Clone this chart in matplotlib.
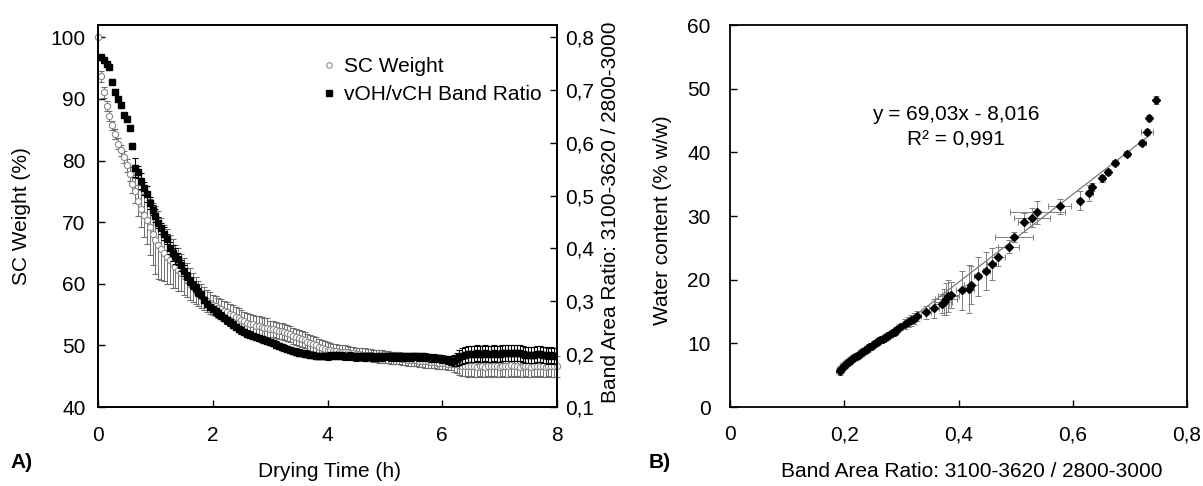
import numpy as np
import matplotlib
matplotlib.use("Agg")
import matplotlib.pyplot as plt
from matplotlib.ticker import FuncFormatter, MultipleLocator
from matplotlib.lines import Line2D

plt.rcParams['font.family'] = ['Liberation Sans', 'DejaVu Sans']

# ---- Panel A: drying kinetics (sampled every 0.05 h) ----
# SC weight (%), from t = 0 h
sc_weight = [
    100.0, 93.7, 91.1, 88.9, 87.3, 85.7, 84.3, 82.7, 81.7, 80.6,
    79.2, 77.8, 76.2, 75.1, 73.5, 72.2, 71.1, 70.4, 69.2, 68.1,
    67.1, 66.3, 65.6, 65.0, 64.4, 63.9, 63.3, 62.8, 62.3, 61.8,
    61.2, 60.6, 60.0, 59.4, 58.9, 58.4, 58.0, 57.6, 57.2, 56.9,
    56.6, 56.4, 56.1, 55.9, 55.6, 55.4, 55.1, 54.9, 54.6, 54.4,
    54.1, 53.9, 53.7, 53.5, 53.4, 53.2, 53.1, 53.0, 52.9, 52.8,
    52.7, 52.6, 52.5, 52.4, 52.3, 52.1, 52.0, 51.8, 51.6, 51.4,
    51.2, 51.0, 50.8, 50.6, 50.4, 50.2, 50.0, 49.8, 49.6, 49.4,
    49.3, 49.2, 49.1, 49.1, 49.0, 49.0, 48.9, 48.9, 48.8, 48.7,
    48.6, 48.6, 48.5, 48.5, 48.4, 48.4, 48.3, 48.3, 48.2, 48.2,
    48.1, 48.1, 48.0, 48.0, 47.9, 47.9, 47.8, 47.8, 47.7, 47.7,
    47.6, 47.6, 47.5, 47.5, 47.4, 47.4, 47.3, 47.3, 47.2, 47.2,
    47.1, 47.1, 47.0, 47.0, 46.9, 46.9, 46.8, 46.7, 46.7, 46.6,
    46.7, 46.6, 46.5, 46.7, 46.6, 46.5, 46.7, 46.6, 46.7, 46.6,
    46.5, 46.7, 46.6, 46.6, 46.8, 46.6, 46.7, 46.5, 46.6, 46.7,
    46.6, 46.5, 46.7, 46.6, 46.7, 46.6, 46.5, 46.7, 46.6, 46.6,
    46.6,
]
sc_err = (
    [0.0, 0.9, 0.9, 0.8, 0.8, 0.8, 0.8, 0.9, 0.9, 1.0]
    + [1.0, 1.2, 1.5, 2.0, 2.5, 3.0, 3.5, 4.0, 4.5, 5.0]
    + [5.5, 5.5, 5.0, 4.5, 4.5, 4.0, 4.0, 3.5, 3.5, 3.0]
    + [3.0, 2.8, 2.6, 2.4, 2.2, 2.0, 2.0, 1.8, 1.8, 1.8]
    + [1.6] * 20
    + [1.3] * 20
    + [1.2, 1.2, 1.2, 1.1, 1.1, 1.1, 1.1, 1.0, 1.0, 1.0]
    + [1.0] * 30
    + [1.0, 1.0, 1.0, 1.0, 1.2, 1.4, 1.6, 1.7, 1.7, 1.7]
    + [1.7] * 31
)

# band area ratio 3100-3620 / 2800-3000, from t = 0.05 h
band_ratio = [
    0.762, 0.757, 0.750, 0.743, 0.716, 0.697, 0.682, 0.671, 0.653,
    0.646, 0.628, 0.594, 0.553, 0.545, 0.528, 0.514, 0.503, 0.486, 0.473,
    0.462, 0.449, 0.438, 0.428, 0.418, 0.401, 0.392, 0.386, 0.380, 0.368,
    0.358, 0.348, 0.338, 0.331, 0.325, 0.318, 0.313, 0.302, 0.295, 0.289,
    0.286, 0.281, 0.277, 0.273, 0.269, 0.264, 0.260, 0.256, 0.251, 0.248,
    0.245, 0.242, 0.239, 0.237, 0.235, 0.233, 0.231, 0.229, 0.227, 0.225,
    0.223, 0.221, 0.218, 0.216, 0.214, 0.212, 0.210, 0.208, 0.206, 0.205,
    0.203, 0.202, 0.201, 0.200, 0.199, 0.198, 0.197, 0.197, 0.196, 0.197,
    0.196, 0.197, 0.198, 0.197, 0.198, 0.197, 0.196, 0.196, 0.197, 0.196,
    0.195, 0.196, 0.196, 0.195, 0.196, 0.196, 0.195, 0.195, 0.196, 0.195,
    0.196, 0.196, 0.195, 0.196, 0.195, 0.195, 0.196, 0.195, 0.196, 0.195,
    0.196, 0.196, 0.195, 0.196, 0.195, 0.194, 0.193, 0.193, 0.192, 0.192,
    0.191, 0.190, 0.189, 0.188, 0.188, 0.190, 0.194, 0.197, 0.199, 0.200,
    0.201, 0.201, 0.202, 0.201, 0.201, 0.202, 0.201, 0.201, 0.202, 0.201,
    0.201, 0.202, 0.202, 0.203, 0.203, 0.203, 0.203, 0.202, 0.200, 0.199,
    0.198, 0.198, 0.199, 0.200, 0.201, 0.199, 0.198, 0.197, 0.198, 0.197,
    0.196,
]
band_err = (
    [0.004] * 9
    + [0.004, 0.004, 0.006, 0.018, 0.012, 0.015, 0.012, 0.015, 0.012, 0.010]
    + [0.012, 0.010, 0.010, 0.012, 0.010, 0.012, 0.015, 0.015, 0.012, 0.010]
    + [0.010, 0.008, 0.008, 0.008, 0.007, 0.007, 0.007, 0.006, 0.006, 0.006]
    + [0.006] * 40
    + [0.007] * 40
    + [0.007, 0.007, 0.008, 0.008, 0.010, 0.012, 0.014, 0.015, 0.015, 0.015]
    + [0.015] * 31
)

t_sc = 0.05 * np.arange(len(sc_weight))
t_band = 0.05 * np.arange(1, len(band_ratio) + 1)

# ---- Panel B: water content vs band area ratio ----
ratio_x = [0.192, 0.194, 0.196, 0.199, 0.201, 0.204, 0.207, 0.210, 0.213, 0.216,
           0.219, 0.222, 0.225, 0.228, 0.231, 0.234, 0.238, 0.241, 0.244, 0.248,
           0.252, 0.255, 0.259, 0.263, 0.267, 0.271, 0.275, 0.279, 0.284, 0.288,
           0.291, 0.297, 0.307, 0.312, 0.316, 0.322, 0.328, 0.343, 0.357, 0.371,
           0.374, 0.378, 0.382, 0.386, 0.406, 0.419, 0.422, 0.434, 0.449, 0.458,
           0.470, 0.488, 0.497, 0.515, 0.529, 0.538, 0.577, 0.612, 0.629, 0.633,
           0.652, 0.661, 0.674, 0.695, 0.722, 0.730, 0.734, 0.746]
water = [5.6, 5.9, 6.2, 6.5, 6.6, 6.9, 7.1, 7.3, 7.5, 7.7,
         7.9, 8.0, 8.2, 8.4, 8.6, 8.8, 9.0, 9.2, 9.4, 9.6,
         9.9, 10.1, 10.3, 10.5, 10.7, 10.9, 11.1, 11.3, 11.6, 11.8,
         12.1, 12.6, 13.0, 13.3, 13.6, 13.9, 14.3, 14.9, 15.5, 16.2,
         16.5, 17.0, 17.4, 17.6, 18.3, 18.5, 19.2, 20.5, 21.4, 22.5,
         23.6, 25.2, 26.7, 29.0, 29.7, 30.6, 31.5, 32.4, 33.6, 34.6,
         35.9, 36.9, 38.4, 39.8, 41.5, 43.2, 45.4, 48.2]
ratio_xerr = [0.006] * 32 + [0.005, 0.005, 0.005, 0.006, 0.006, 0.008, 0.008, 0.012,
              0.015, 0.020, 0.018, 0.015, 0.010, 0.008, 0.013, 0.006, 0.006, 0.008,
              0.012, 0.018, 0.033, 0.010, 0.032, 0.048, 0.020, 0.004, 0.006, 0.004,
              0.005, 0.005, 0.005, 0.005, 0.006, 0.010, 0.003, 0.003]
water_err = [0.5] * 32 + [0.8, 0.8, 0.8, 0.8, 0.8, 1.0, 1.5, 1.5,
             2.0, 2.5, 2.5, 2.0, 3.0, 3.8, 3.0, 3.0, 3.0, 2.5,
             1.5, 1.0, 0.8, 1.5, 1.5, 1.8, 1.2, 1.5, 1.2, 0.6,
             0.5, 0.5, 0.4, 0.4, 0.4, 0.4, 0.4, 0.6]
fit_slope, fit_icpt = 69.03, -8.016
fit_range = [0.19, 0.735]


def comma_fmt(v, pos):
    if abs(v) < 1e-9:
        return "0"
    return f"{v:.1f}".replace(".", ",")


W, H = 1203, 486
fig = plt.figure(figsize=(W / 100, H / 100), dpi=100)

tick_fs = 15
label_fs = 15

# Panel A
ax = fig.add_axes([98 / W, 1 - 407 / H, (557 - 98) / W, (407 - 25) / H])
ax2 = ax.twinx()

ax.errorbar(t_sc, sc_weight, yerr=sc_err, fmt='o', ms=4.5, mfc='white', mec='#8a8a8a',
            mew=0.8, ecolor='#6e6e6e', elinewidth=0.7, capsize=2, capthick=0.7,
            label='SC Weight', clip_on=False, zorder=2)
ax2.errorbar(t_band, band_ratio, yerr=band_err, fmt='s', ms=5, color='black',
             elinewidth=0.8, capsize=2, capthick=0.8, label='vOH/vCH Band Ratio')

ax.set_xlim(0, 8)
ax.set_ylim(40, 102)
ax2.set_ylim(0.1, 0.823)
ax.set_xticks([0, 2, 4, 6, 8])
ax.set_yticks(range(40, 101, 10))
ax2.set_yticks([0.1, 0.2, 0.3, 0.4, 0.5, 0.6, 0.7, 0.8])
ax2.yaxis.set_major_formatter(FuncFormatter(comma_fmt))

ax.tick_params(axis='x', direction='in', length=5, width=1, labelsize=tick_fs, pad=14)
ax.tick_params(axis='y', direction='in', length=5, width=1, labelsize=tick_fs, pad=9)
ax2.tick_params(axis='y', direction='in', length=5, width=1, labelsize=tick_fs, pad=6)
for a in (ax, ax2):
    for s in a.spines.values():
        s.set_linewidth(1.3)

handles = [
    Line2D([], [], marker='o', ls='none', ms=4, mfc='white', mec='#8a8a8a', mew=0.8),
    Line2D([], [], marker='s', ls='none', ms=4, color='black'),
]
ax2.legend(handles, ['SC Weight', 'vOH/vCH Band Ratio'], loc='upper left',
           bbox_to_anchor=(323 / W, 1 - 57 / H), bbox_transform=fig.transFigure,
           frameon=False, fontsize=tick_fs, handlelength=0.6, handletextpad=0.4,
           borderpad=0, borderaxespad=0, labelspacing=0.45)

fig.text(22 / W, 1 - 216 / H, 'SC Weight (%)', rotation=90, ha='center', va='center',
         fontsize=label_fs)
fig.text(611 / W, 1 - 212 / H, 'Band Area Ratio: 3100-3620 / 2800-3000', rotation=90,
         ha='center', va='center', fontsize=label_fs)
fig.text(330 / W, 1 - 471 / H, 'Drying Time (h)', ha='center', va='center',
         fontsize=label_fs)
fig.text(22 / W, 1 - 462 / H, 'A)', ha='center', va='center', fontsize=label_fs,
         fontweight='bold')

# Panel B
bx = fig.add_axes([730 / W, 1 - 407 / H, (1187 - 730) / W, (407 - 25) / H])
bx.errorbar(ratio_x, water, xerr=ratio_xerr, yerr=water_err, fmt='none',
            ecolor='#808080', elinewidth=0.7, capsize=2, capthick=0.7)
bx.plot(fit_range, [fit_slope * v + fit_icpt for v in fit_range], color='#7a7a7a', lw=0.9)
bx.plot(ratio_x, water, 'D', ms=4.5, color='black')

bx.set_xlim(0, 0.8)
bx.set_ylim(0, 60)
bx.xaxis.set_major_locator(MultipleLocator(0.2))
bx.yaxis.set_major_locator(MultipleLocator(10))
bx.xaxis.set_major_formatter(FuncFormatter(comma_fmt))
bx.tick_params(axis='x', direction='in', length=5, width=1, labelsize=tick_fs, pad=13)
bx.tick_params(axis='y', direction='in', length=5, width=1, labelsize=tick_fs, pad=14)
for s in bx.spines.values():
    s.set_linewidth(1.3)

bx.text(0.396, 45.9, 'y = 69,03x - 8,016', ha='center', va='center', fontsize=label_fs)
bx.text(0.396, 41.9, 'R² = 0,991', ha='center', va='center', fontsize=label_fs)

fig.text(662 / W, 1 - 220 / H, 'Water content (% w/w)', rotation=90, ha='center',
         va='center', fontsize=label_fs)
fig.text(972 / W, 1 - 471 / H, 'Band Area Ratio: 3100-3620 / 2800-3000', ha='center',
         va='center', fontsize=label_fs)
fig.text(660 / W, 1 - 462 / H, 'B)', ha='center', va='center', fontsize=label_fs,
         fontweight='bold')

fig.savefig('out.png', dpi=100)
